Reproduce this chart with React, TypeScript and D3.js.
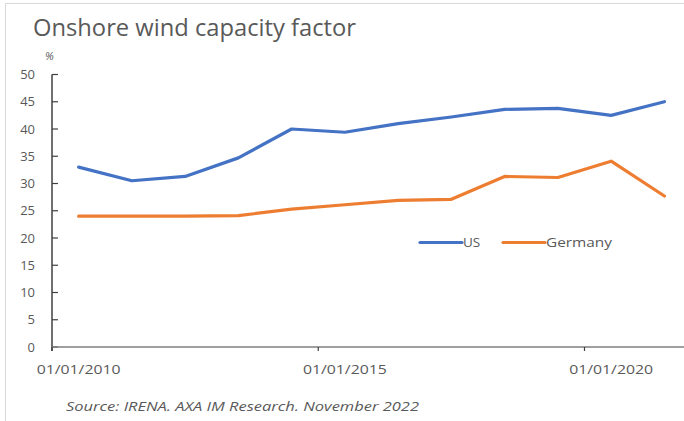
import React from "react";
import * as d3 from "d3";

const years = ["2010","2011","2012","2013","2014","2015","2016","2017","2018","2019","2020","2021"];
const usValues = [33.0, 30.5, 31.3, 34.7, 40.0, 39.4, 41.0, 42.2, 43.6, 43.8, 42.5, 45.0];
const germanyValues = [24.0, 24.0, 24.0, 24.1, 25.3, 26.1, 26.9, 27.1, 31.3, 31.1, 34.1, 27.7];
const yTicks = [0, 5, 10, 15, 20, 25, 30, 35, 40, 45, 50];
const xLabelIdx = [0, 5, 10];
const xLabels = ["01/01/2010", "01/01/2015", "01/01/2020"];
const seriesNames = ["US", "Germany"];
const seriesColors = ["#4472C4", "#ED7D31"];

const W = 684, H = 421;
const FONT = "'Open Sans', 'DejaVu Sans', sans-serif";
const GRAY = "#595959";

export default function App() {
  const x = d3.scaleBand<string>().domain(years).range([52, 52 + 12 * 53.25]).padding(0);
  const y = d3.scaleLinear().domain([0, 50]).range([347, 74.5]);
  const cx = (d: string) => (x(d) as number) + x.bandwidth() / 2;
  const line = d3.line<number>().x((_, i) => cx(years[i])).y((v) => y(v));
  const series = [usValues, germanyValues];

  return (
    <svg width={W} height={H} style={{ position: "absolute", left: 0, top: 0, background: "#fff" }} fontFamily={FONT}>
      <rect x={5.5} y={3.5} width={W} height={H} fill="#fff" stroke="#d9d9d9" strokeWidth={1} />
      <text x={33} y={36} fontSize={23} fill={GRAY} textLength={323} lengthAdjust="spacingAndGlyphs">Onshore wind capacity factor</text>
      <text x={45} y={60} fontSize={11} fontStyle="italic" fill={GRAY}>%</text>

      {yTicks.map((t) => (
        <g key={t}>
          <line x1={52} x2={58} y1={y(t)} y2={y(t)} stroke="#404040" strokeWidth={1.2} />
          <text x={35} y={y(t)} dy="0.36em" textAnchor="end" fontSize={13} fill={GRAY}>{t}</text>
        </g>
      ))}
      <line x1={52} x2={52} y1={y(50)} y2={351} stroke="#404040" strokeWidth={1.5} />
      <line x1={52} x2={700} y1={y(0)} y2={y(0)} stroke="#7f7f7f" strokeWidth={1.5} />
      {xLabelIdx.map((idx, i) => (
        <g key={idx}>
          <line x1={x(years[idx]) as number} x2={x(years[idx]) as number} y1={y(0)} y2={351} stroke="#404040" strokeWidth={1.2} />
          <text x={cx(years[idx])} y={374} textAnchor="middle" fontSize={13.5} fill={GRAY} textLength={84} lengthAdjust="spacingAndGlyphs">{xLabels[i]}</text>
        </g>
      ))}

      {series.map((s, i) => (
        <path key={i} d={line(s) || ""} fill="none" stroke={seriesColors[i]} strokeWidth={3.2} strokeLinejoin="round" strokeLinecap="round" />
      ))}

      <line x1={420} x2={462} y1={242.5} y2={242.5} stroke={seriesColors[0]} strokeWidth={3.2} strokeLinecap="round" />
      <text x={463} y={247} fontSize={13.5} fill={GRAY}>{seriesNames[0]}</text>
      <line x1={503} x2={545} y1={242.5} y2={242.5} stroke={seriesColors[1]} strokeWidth={3.2} strokeLinecap="round" />
      <text x={546} y={247} fontSize={13.5} fill={GRAY} textLength={66} lengthAdjust="spacingAndGlyphs">{seriesNames[1]}</text>

      <text x={66} y={411} fontSize={13} fontStyle="italic" fill={GRAY} textLength={353} lengthAdjust="spacingAndGlyphs">Source: IRENA. AXA IM Research. November 2022</text>
    </svg>
  );
}
